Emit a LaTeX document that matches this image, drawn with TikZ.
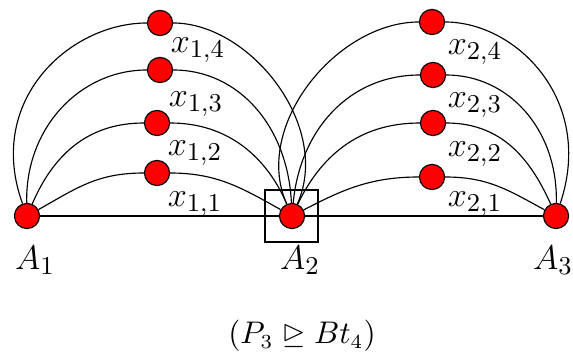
\documentclass[tikz,border=0pt]{standalone}
\usepackage{amssymb}
\begin{document}
\begin{tikzpicture}[x=0.35pt,y=-0.35pt,
  vtx/.style={circle,draw=black,fill=red,line width=0.4pt,minimum size=8.8pt,inner sep=0pt},
  lbl/.style={inner sep=0pt,font=\fontsize{13.2}{15}\selectfont},
  edge/.style={line width=0.4pt}]
\useasboundingbox (0,0) rectangle (573,359);
% main vertices
\node[vtx] (A1) at (27,216) {};
\node[vtx] (A2) at (292,216) {};
\node[vtx] (A3) at (556,216) {};
\node[draw,line width=0.75pt,minimum width=18.6pt,minimum height=18.2pt,inner sep=0pt] (box) at (291.5,216) {};
% left vertices
\node[vtx] (x11) at (157,173) {};
\node[vtx] (x12) at (157,123) {};
\node[vtx] (x13) at (160,70) {};
\node[vtx] (x14) at (160,23) {};
% right vertices
\node[vtx] (x21) at (432,177) {};
\node[vtx] (x22) at (433,123) {};
\node[vtx] (x23) at (433,75) {};
\node[vtx] (x24) at (432,22) {};
% edges
\draw[edge] (A1) -- (A2) -- (A3);
\draw[edge] (A1) .. controls +(50,-28) and +(-60,0) .. (x11) .. controls +(60,0) and +(-50,-28) .. (A2);
\draw[edge] (A1) .. controls +(25,-58) and +(-72,0) .. (x12) .. controls +(72,0) and +(-25,-58) .. (A2);
\draw[edge] (A1) .. controls +(-2,-88) and +(-80,0) .. (x13) .. controls +(80,0) and +(-4,-88) .. (A2);
\draw[edge] (A1) .. controls +(-42,-116) and +(-90,0) .. (x14) .. controls +(90,0) and +(40,-90) .. (A2);
\draw[edge] (A2) .. controls +(50,-26) and +(-62,0) .. (x21) .. controls +(56,0) and +(-48,-26) .. (A3);
\draw[edge] (A2) .. controls +(28,-58) and +(-76,0) .. (x22) .. controls +(68,0) and +(-26,-58) .. (A3);
\draw[edge] (A2) .. controls +(8,-86) and +(-84,0) .. (x23) .. controls +(76,0) and +(2,-86) .. (A3);
\draw[edge] (A2) .. controls +(-40,-90) and +(-95,0) .. (x24) .. controls +(84,0) and +(39,-116) .. (A3);
% labels
\node[lbl] (l11) at (195,204) {$x_{1,1}$};
\node[lbl] (l12) at (195,153) {$x_{1,2}$};
\node[lbl] (l13) at (196,104) {$x_{1,3}$};
\node[lbl] (l14) at (198,50) {$x_{1,4}$};
\node[lbl] (l21) at (475,204) {$x_{2,1}$};
\node[lbl] (l22) at (475,154) {$x_{2,2}$};
\node[lbl] (l23) at (475,105) {$x_{2,3}$};
\node[lbl] (l24) at (475,52) {$x_{2,4}$};
\node[lbl] (lA1) at (35,260) {$A_1$};
\node[lbl] (lA2) at (300,260) {$A_2$};
\node[lbl] (lA3) at (553,260) {$A_3$};
\node[inner sep=0pt,font=\fontsize{10.5}{12}\selectfont] (cap) at (302,336) {$(P_3 \trianglerighteq Bt_4)$};
\end{tikzpicture}
\end{document}
